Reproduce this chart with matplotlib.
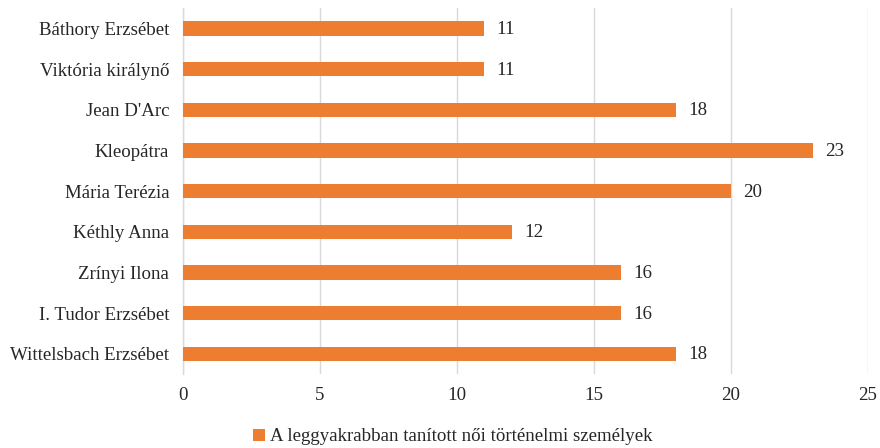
import matplotlib
matplotlib.use("Agg")
import matplotlib.pyplot as plt
from matplotlib.patches import Patch

# Data (top to bottom as shown in the chart)
names = ["Báthory Erzsébet", "Viktória királynő", "Jean D'Arc", "Kleopátra",
         "Mária Terézia", "Kéthly Anna", "Zrínyi Ilona",
         "I. Tudor Erzsébet", "Wittelsbach Erzsébet"]
counts = [11, 11, 18, 23, 20, 12, 16, 16, 18]
x_ticks = [0, 5, 10, 15, 20, 25]
series_label = "A leggyakrabban tanított női történelmi személyek"

orange = "#ED7D31"
grid_gray = "#D9D9D9"
text_color = "#262626"

plt.rcParams["font.family"] = ["Liberation Serif", "DejaVu Serif"]
plt.rcParams["font.size"] = 13.6

fig = plt.figure(figsize=(8.8, 4.48), dpi=100)
ax = fig.add_axes([0.208, 0.165, 0.778, 0.817])

positions = list(range(len(names)))[::-1]
ax.barh(positions, counts, height=0.35, color=orange, zorder=3)

# value labels to the right of each bar
for pos, val in zip(positions, counts):
    ax.text(val + 0.45, pos - 0.03, str(val), va="center", ha="left", color=text_color)

ax.set_yticks(positions)
ax.set_yticklabels(names, color=text_color)
ax.set_ylim(-0.5, len(names) - 0.5)
ax.set_xlim(0, 25)
ax.set_xticks(x_ticks)
ax.tick_params(axis="both", length=0, colors=text_color)
ax.tick_params(axis="x", pad=9)
ax.tick_params(axis="y", pad=10)

ax.grid(axis="x", color=grid_gray, linewidth=1, zorder=0)
for side in ["top", "right", "bottom"]:
    ax.spines[side].set_visible(False)
ax.spines["left"].set_color(grid_gray)
ax.spines["left"].set_linewidth(1)

handle = Patch(facecolor=orange, edgecolor="none")
fig.legend([handle], [series_label], loc="center", bbox_to_anchor=(0.515, 0.025),
           frameon=False, handlelength=0.6, handleheight=0.6, handletextpad=0.3,
           labelcolor=text_color)

fig.savefig("out.png", dpi=100)
